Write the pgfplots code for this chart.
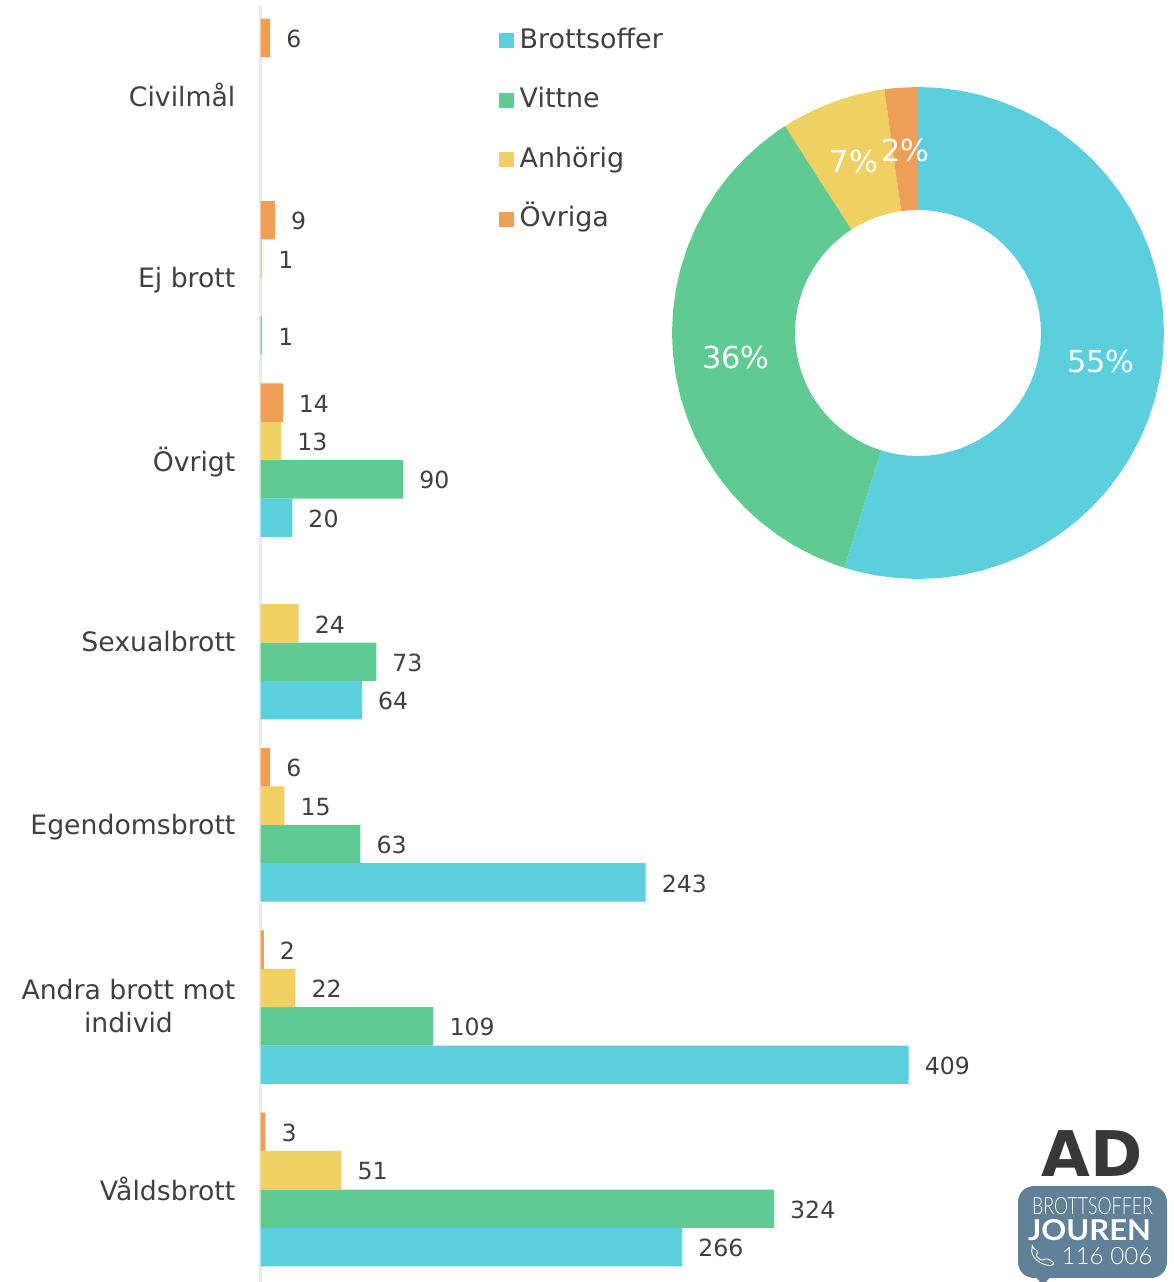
\documentclass[border=0pt]{standalone}
\usepackage{fontspec}
\usepackage{graphicx}
\usepackage{pgfplots}
\pgfplotsset{compat=1.18}
\usepgfplotslibrary{polar}
\setmainfont{DejaVu Sans}
\newfontfamily\logothin{Lato Light}
\newfontfamily\logobold{Lato}
\definecolor{cBlue}{HTML}{5BCFDE}
\definecolor{cGreen}{HTML}{5FCB93}
\definecolor{cYellow}{HTML}{F0CF63}
\definecolor{cOrange}{HTML}{EE9F57}
\definecolor{cText}{HTML}{404040}
\definecolor{cLogo}{HTML}{5F8096}
\begin{document}
\begin{tikzpicture}[x=1pt,y=1pt]
\path[use as bounding box] (0,0) rectangle (1174,1282);
\begin{axis}[
  at={(260.6pt,0pt)}, anchor=south west, scale only axis,
  width=913.4pt, height=1277pt,
  xmin=0, xmax=576.4, ymin=-0.5073, ymax=6.4964,
  axis x line=none, axis y line*=left,
  y axis line style={draw=black!8, line width=2.4pt, -},
  ytick={0,1,2,3,4,5,6},
  yticklabels={Våldsbrott\vphantom{dg},{Andra brott mot\\individ\vphantom{g}},Egendomsbrott\vphantom{dg},Sexualbrott\vphantom{dg},Övrigt\vphantom{dg},Ej brott\vphantom{dg},Civilmål\vphantom{dg}},
  major tick length=0pt,
  yticklabel style={align=center, font=\fontsize{26.7}{33}\selectfont, text=cText, inner sep=0pt, anchor=east, xshift=-25pt, yshift=-1.8pt},
  xbar, bar width=38.4pt,
  nodes near coords,
  nodes near coords align={horizontal},
  every node near coord/.append style={font=\fontsize{23.6}{26}\selectfont, text=cText, inner sep=0pt, xshift=16pt, yshift=-1pt, anchor=west, /pgf/number format/assume math mode=true},
  legend image code/.code={\fill[#1] (0pt,-7.5pt) rectangle (15pt,7.5pt); \path (0pt,0pt) -- (21pt,0pt);},
  legend cell align=left,
  legend style={at={(axis description cs:0.2607,0.9835)}, anchor=north west, draw=none, fill=none, inner sep=0pt, outer sep=0pt, row sep=30.5pt,
    font=\fontsize{26.9}{30}\selectfont, text=cText,
    nodes={inner sep=0pt, text height=22pt, text depth=7pt, text=cText}},
]
\addplot[draw=none, fill=cBlue, bar shift=-57.6pt] coordinates {(266,0) (409,1) (243,2) (64,3) (20,4) (1,5)};
\addplot[draw=none, fill=cGreen, bar shift=-19.2pt] coordinates {(324,0) (109,1) (63,2) (73,3) (90,4)};
\addplot[draw=none, fill=cYellow, bar shift=19.2pt] coordinates {(51,0) (22,1) (15,2) (24,3) (13,4) (1,5)};
\addplot[draw=none, fill=cOrange, bar shift=57.6pt] coordinates {(3,0) (2,1) (6,2) (14,4) (9,5) (6,6)};
\legend{Brottsoffer,Vittne,Anhörig,Övriga}
\end{axis}
\begin{polaraxis}[
  at={(918pt,949pt)}, anchor=center, scale only axis,
  width=492pt, height=492pt, hide axis, clip=false,
  xmin=-270, xmax=90, ymin=0, ymax=246,
]
\addplot[draw=none, fill=cBlue] coordinates {
(90,246)(85,246)(80,246)(75,246)(70,246)(65,246)(60,246)(55,246)(50,246)(45,246)(40,246)(35,246)(30,246)(25,246)(20,246)(15,246)(10,246)(5,246)(0,246)
(-5,246)(-10,246)(-15,246)(-20,246)(-25,246)(-30,246)(-35,246)(-40,246)(-45,246)(-50,246)(-55,246)(-60,246)(-65,246)(-70,246)(-75,246)(-80,246)(-85,246)(-90,246)(-95,246)(-100,246)(-105,246)(-107.44,246)
(-107.44,123)(-105,123)(-100,123)(-95,123)(-90,123)(-85,123)(-80,123)(-75,123)(-70,123)(-65,123)(-60,123)(-55,123)(-50,123)(-45,123)(-40,123)(-35,123)(-30,123)(-25,123)(-20,123)(-15,123)(-10,123)(-5,123)
(0,123)(5,123)(10,123)(15,123)(20,123)(25,123)(30,123)(35,123)(40,123)(45,123)(50,123)(55,123)(60,123)(65,123)(70,123)(75,123)(80,123)(85,123)(90,123)} -- cycle;
\addplot[draw=none, fill=cGreen] coordinates {
(-107.44,246)(-110,246)(-115,246)(-120,246)(-125,246)(-130,246)(-135,246)(-140,246)(-145,246)(-150,246)(-155,246)(-160,246)(-165,246)(-170,246)(-175,246)(-180,246)(-185,246)(-190,246)(-195,246)(-200,246)(-205,246)(-210,246)(-215,246)(-220,246)(-225,246)(-230,246)(-235,246)(-237.29,246)
(-237.29,123)(-235,123)(-230,123)(-225,123)(-220,123)(-215,123)(-210,123)(-205,123)(-200,123)(-195,123)(-190,123)(-185,123)(-180,123)(-175,123)(-170,123)(-165,123)(-160,123)(-155,123)(-150,123)(-145,123)(-140,123)(-135,123)(-130,123)(-125,123)(-120,123)(-115,123)(-110,123)(-107.44,123)} -- cycle;
\addplot[draw=none, fill=cYellow] coordinates {
(-237.29,246)(-240,246)(-245,246)(-250,246)(-255,246)(-260,246)(-262.12,246)
(-262.12,123)(-260,123)(-255,123)(-250,123)(-245,123)(-240,123)(-237.29,123)} -- cycle;
\addplot[draw=none, fill=cOrange] coordinates {
(-262.12,246)(-265,246)(-270,246)(-270,123)(-265,123)(-262.12,123)} -- cycle;
\end{polaraxis}
\begin{scope}[every node/.style={text=white, inner sep=0pt, font=\fontsize{30.3}{32}\selectfont}]
\node at (1101,921) {55\%};
\node at (736,925) {36\%};
\node at (854,1121) {7\%};
\node at (905.5,1132) {2\%};
\end{scope}
% logo
\node[inner sep=0pt, text=black!78, font=\fontsize{63}{65}\bfseries] at (1092.5,128) {AD};
\fill[cLogo] (1035,6) -- (1040,0) -- (1046,0) -- (1051,6) -- cycle;
\fill[cLogo, rounded corners=16pt] (1018,4) rectangle (1167,96);
\node[inner sep=0pt, text=white] at (1092.5,75.5) {\resizebox{121pt}{17pt}{\logothin BROTTSOFFER}};
\node[inner sep=0pt, text=white] at (1089.5,51.5) {\resizebox{123pt}{21pt}{\logobold\bfseries JOUREN}};
\draw[white, line width=0.9pt, rounded corners=1.5pt] (1032.3,34.7) -- (1038.3,30.3) -- (1035.7,26.3) -- (1041.7,21.3) -- (1046.7,23.7) -- (1054.3,19.3) -- (1051.7,16.3) .. controls (1040,17) and (1030,25.3) .. cycle;
\node[inner sep=0pt, text=white] at (1107,25.5) {\resizebox{91pt}{17pt}{\logothin 116 006}};
\end{tikzpicture}
\end{document}
